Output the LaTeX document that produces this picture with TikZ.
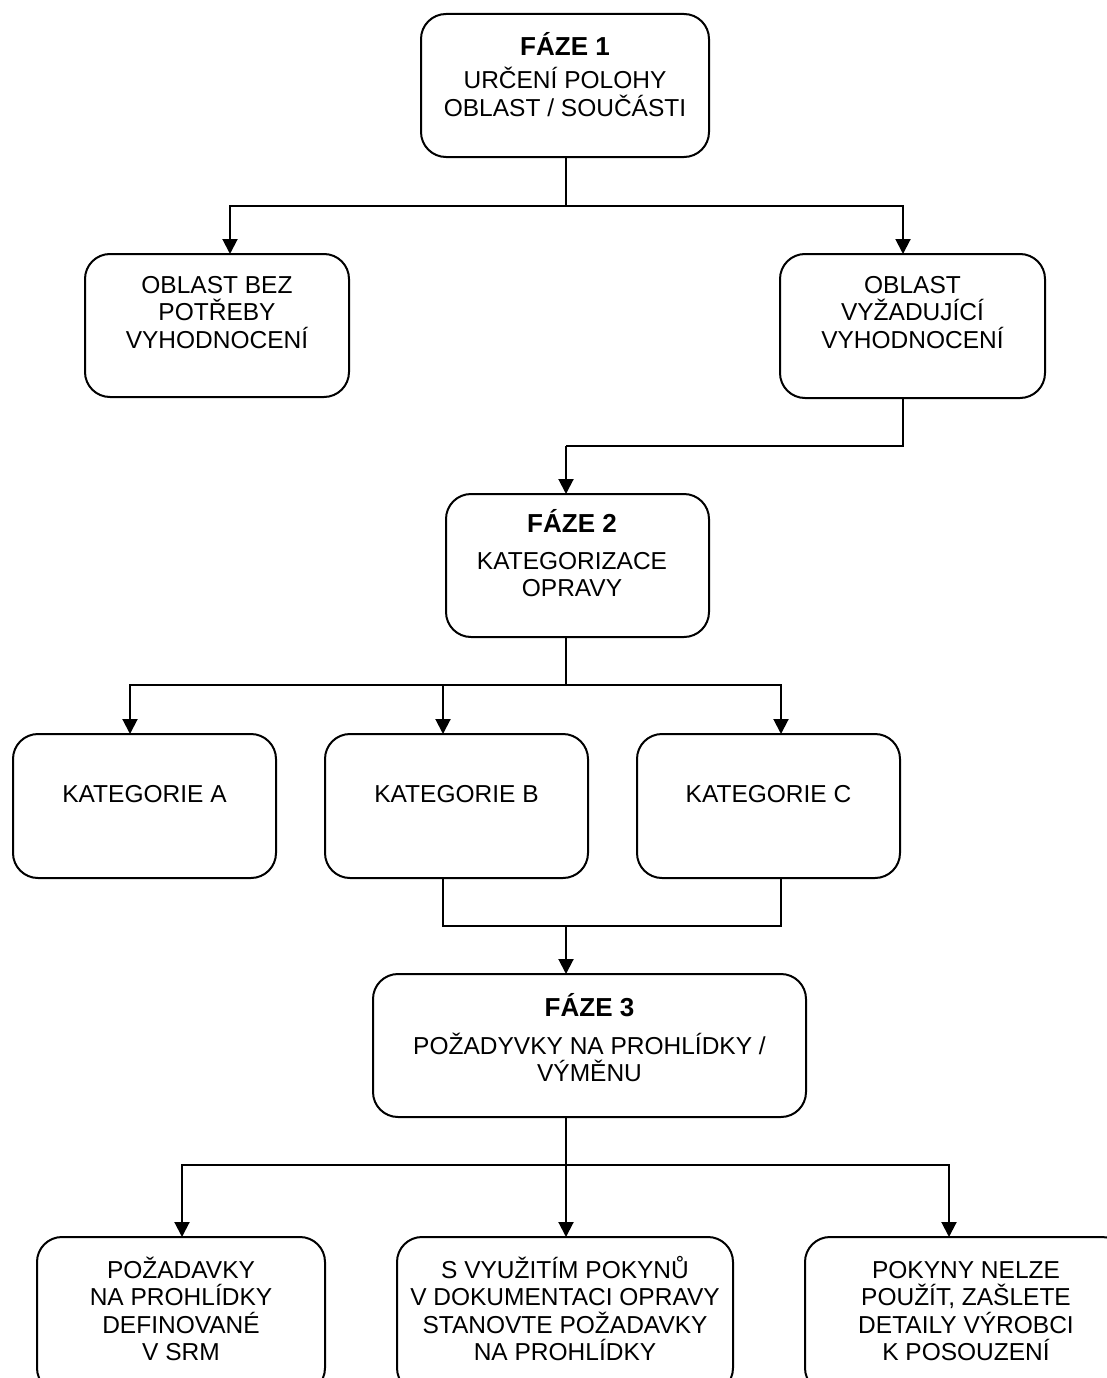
\documentclass[tikz,border=0pt]{standalone}
\usepackage{fontspec}
\setmainfont{Liberation Sans}
\usetikzlibrary{arrows.meta}
\newcommand{\tallstrut}{\rule{0pt}{25pt}}
\newcommand{\phasetitle}[1]{{\fontsize{26}{27.5}\selectfont\bfseries #1}}
\begin{document}
\begin{tikzpicture}[x=1pt,y=-1pt,
  box/.style={draw, line width=2pt, rounded corners=25pt, outer sep=0pt, inner sep=0pt},
  lbl/.style={anchor=north, inner sep=0pt, align=center,
    font=\fontsize{24.5}{27.5}\selectfont},
  link/.style={line width=2pt},
  arr/.style={line width=2pt, -{Triangle[length=15pt,width=15pt]}}]
\useasboundingbox (0,0) rectangle (1107,1378);
\clip (0,0) rectangle (1107,1378);
\fill[white] (0,0) rectangle (1107,1378);

% phase 1 and its two outcomes
\node[box, minimum width=288pt, minimum height=143pt] (p1) at (565,85.5) {};
\node[lbl] (p1t) at (565,30.8) {\tallstrut\phasetitle{FÁZE 1}\\[5.5pt]URČENÍ POLOHY\\OBLAST / SOUČÁSTI};
\node[box, minimum width=264pt, minimum height=143pt] (a) at (217,325.5) {};
\node[lbl] (at) at (217,267.8) {\tallstrut OBLAST BEZ\\POTŘEBY\\VYHODNOCENÍ};
\node[box, minimum width=265pt, minimum height=144pt] (b) at (912.5,326) {};
\node[lbl] (bt) at (912.5,267.8) {\tallstrut OBLAST\\VYŽADUJÍCÍ\\VYHODNOCENÍ};

% phase 2 and the repair categories
\node[box, minimum width=263pt, minimum height=143pt] (p2) at (577.5,565.5) {};
\node[lbl] (p2t) at (572,506.8) {\tallstrut\phasetitle{FÁZE 2}\\[9.5pt]KATEGORIZACE\\OPRAVY};
\node[box, minimum width=263pt, minimum height=144pt] (ka) at (144.5,806) {};
\node[lbl] (kat) at (144.5,776.8) {\tallstrut KATEGORIE A};
\node[box, minimum width=263pt, minimum height=144pt] (kb) at (456.5,806) {};
\node[lbl] (kbt) at (456.5,776.8) {\tallstrut KATEGORIE B};
\node[box, minimum width=263pt, minimum height=144pt] (kc) at (768.5,806) {};
\node[lbl] (kct) at (768.5,776.8) {\tallstrut KATEGORIE C};

% phase 3 and the inspection requirements
\node[box, minimum width=433pt, minimum height=143pt] (p3) at (589.5,1045.5) {};
\node[lbl] (p3t) at (589.5,990.8) {\tallstrut\phasetitle{FÁZE 3}\\[10.5pt]POŽADYVKY NA PROHLÍDKY /\\VÝMĚNU};
\node[box, minimum width=288pt, minimum height=156pt] (r1) at (181,1315) {};
\node[lbl] (r1t) at (181,1252.8) {\tallstrut POŽADAVKY\\NA PROHLÍDKY\\DEFINOVANÉ\\V SRM};
\node[box, minimum width=336pt, minimum height=156pt] (r2) at (565,1315) {};
\node[lbl] (r2t) at (565,1252.8) {\tallstrut S VYUŽITÍM POKYNŮ\\V DOKUMENTACI OPRAVY\\STANOVTE POŽADAVKY\\NA PROHLÍDKY};
\node[box, minimum width=322pt, minimum height=156pt] (r3) at (966,1315) {};
\node[lbl] (r3t) at (966,1252.8) {\tallstrut POKYNY NELZE\\POUŽÍT, ZAŠLETE\\DETAILY VÝROBCI\\K POSOUZENÍ};

% junction points
\coordinate (j1) at (566,206);
\coordinate (j2) at (566,446);
\coordinate (j3) at (566,685);
\coordinate (j4) at (566,926);
\coordinate (j5) at (566,1165);

% connectors
\draw[link] ([xshift=1pt]p1.south) -- (j1);
\draw[arr] (j1) -| ([xshift=13pt]a.north);
\draw[arr] (j1) -| ([xshift=-9.5pt]b.north);
\draw[link] ([xshift=-9.5pt]b.south) |- (j2);
\draw[arr] (j2) -- ([xshift=-11.5pt]p2.north);
\draw[link] ([xshift=-11.5pt]p2.south) -- (j3);
\draw[arr] (j3) -| ([xshift=-14.5pt]ka.north);
\draw[arr] (j3) -| ([xshift=-13.5pt]kb.north);
\draw[arr] (j3) -| ([xshift=12.5pt]kc.north);
\draw[link] ([xshift=-13.5pt]kb.south) |- (j4);
\draw[link] ([xshift=12.5pt]kc.south) |- (j4);
\draw[arr] (j4) -- ([xshift=-23.5pt]p3.north);
\draw[link] ([xshift=-23.5pt]p3.south) -- (j5);
\draw[arr] (j5) -| ([xshift=1pt]r1.north);
\draw[arr] (j5) -- ([xshift=1pt]r2.north);
\draw[arr] (j5) -| ([xshift=-17pt]r3.north);
\end{tikzpicture}
\end{document}
